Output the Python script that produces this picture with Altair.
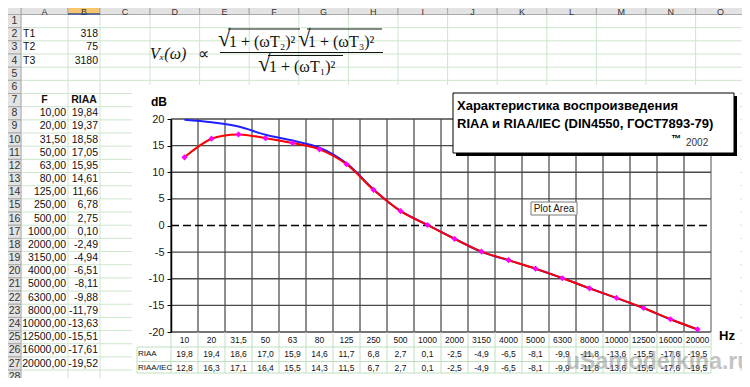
import altair as alt
import pandas as pd

# ---------------- data ----------------
t_names = ["T1", "T2", "T3"]
t_values = [318, 75, 3180]

freqs = [10, 20, 31.5, 50, 63, 80, 125, 250, 500, 1000,
         2000, 3150, 4000, 5000, 6300, 8000, 10000, 12500, 16000, 20000]
riaa = [19.84, 19.37, 18.58, 17.05, 15.95, 14.61, 11.66, 6.78, 2.75, 0.10,
        -2.49, -4.94, -6.51, -8.11, -9.88, -11.79, -13.63, -15.51, -17.61, -19.52]
riaa_table = [19.8, 19.4, 18.6, 17.0, 15.9, 14.6, 11.7, 6.8, 2.7, 0.1,
              -2.5, -4.9, -6.5, -8.1, -9.9, -11.8, -13.6, -15.5, -17.6, -19.5]
riaa_iec = [12.8, 16.3, 17.1, 16.4, 15.5, 14.3, 11.5, 6.7, 2.7, 0.1,
            -2.5, -4.9, -6.5, -8.1, -9.9, -11.8, -13.6, -15.5, -17.6, -19.5]
series_names = ["RIAA", "RIAA/IEC"]
y_ticks = [20, 15, 10, 5, 0, -5, -10, -15, -20]
col_letters = list("ABCDEFGHIJKLMNO")
n_rows = 29

title_1 = "Характеристика воспроизведения"
title_2 = "RIAA и RIAA/IEC (DIN4550, ГОСТ7893-79)"


def comma(v, d):
    return f"{v:.{d}f}".replace(".", ",")


cats = [f"{f:g}".replace(".", ",") for f in freqs]

# ---------------- layout ----------------
SANS = "Liberation Sans"
SERIF = "Liberation Serif"
PX0, PY0 = 171, 119          # page position of the plot origin
W, H = 540, 213
ROW_TOP, ROW_H = 14.5, 13.17
COL_EDGES = [0, 21, 68, 100, 150, 199.6, 249.2, 298.8, 348.4, 398, 447.6,
             497.2, 546.8, 596.4, 646, 695.6, 745.2]
GRID = "#cde6cd"
TBL = "#bfe0bf"
HDR = "#e3e3e3"


def vx(p):
    return alt.value(p - PX0)


def vy(p):
    return alt.value(p - PY0)


one = pd.DataFrame({"k": [0]})

# ---------------- spreadsheet (own scales) ----------------
sx = alt.Scale(type="linear", domain=list(range(-1, 16)),
               range=[e - PX0 for e in COL_EDGES], nice=False, zero=False)
sy = alt.Scale(type="linear", domain=[0, n_rows],
               range=[ROW_TOP - PY0, ROW_TOP + n_rows * ROW_H - PY0], nice=False, zero=False)


def SX(f):
    return alt.X(f, scale=sx, axis=None)


def SY(f):
    return alt.Y(f, scale=sy, axis=None)


rows_df = pd.DataFrame({"r": list(range(0, n_rows + 1))})
cols_df = pd.DataFrame({"c": list(range(0, 16))})

s_h = alt.Chart(rows_df).mark_rule(color=GRID).encode(y=SY("r:Q"), x=vx(21), x2=vx(760))
s_v = alt.Chart(cols_df).mark_rule(color=GRID).encode(x=SX("c:Q"), y=vy(14.5), y2=vy(400))

hdr_df = pd.DataFrame({"c": list(range(15)), "letter": col_letters})
hdr_df["c1"] = hdr_df["c"] + 1
hdr_df["cm"] = hdr_df["c"] + 0.5
s_hdr = alt.Chart(hdr_df).mark_rect(stroke="#a9a9a9", strokeWidth=1).encode(
    x=SX("c:Q"), x2="c1:Q", y=vy(0), y2=vy(14.5),
    fill=alt.condition("datum.letter == 'B'", alt.value("#f7c56e"), alt.value(HDR)))
s_hdr_b = alt.Chart(hdr_df[hdr_df["letter"] == "B"]).mark_rule(color="#3b4f9a", strokeWidth=1.5).encode(
    x=SX("c:Q"), x2="c1:Q", y=vy(14))
s_letters = alt.Chart(hdr_df).mark_text(font=SANS, fontSize=9, color="#333").encode(
    x=SX("cm:Q"), y=vy(11.5), text="letter:N")
s_corner = alt.Chart(one).mark_rect(fill=HDR, stroke="#a9a9a9").encode(
    x=vx(0), x2=vx(21), y=vy(0), y2=vy(14.5))

rh_df = pd.DataFrame({"r": list(range(1, n_rows))})
rh_df["r0"] = rh_df["r"] - 1
rh_df["rm"] = rh_df["r"] - 0.5
rh_df["label"] = rh_df["r"].astype(str)
s_rowhdr = alt.Chart(rh_df).mark_rect(fill=HDR, stroke="#a9a9a9", strokeWidth=1).encode(
    x=vx(0), x2=vx(21), y=SY("r0:Q"), y2="r:Q")
s_rownum = alt.Chart(rh_df).mark_text(font=SANS, fontSize=10.5, color="#333").encode(
    x=vx(14.5), y=SY("rm:Q"), text="label:N")

par_df = pd.DataFrame({"name": t_names, "val": [str(v) for v in t_values],
                       "rm": [1.5, 2.5, 3.5], "ca": [0] * 3, "cb": [2] * 3})
s_pn = alt.Chart(par_df).mark_text(font=SANS, fontSize=10.5, align="left", dx=2, color="#111").encode(
    x=SX("ca:Q"), y=SY("rm:Q"), text="name:N")
s_pv = alt.Chart(par_df).mark_text(font=SANS, fontSize=10.5, align="right", dx=-2, color="#111").encode(
    x=SX("cb:Q"), y=SY("rm:Q"), text="val:N")

head_df = pd.DataFrame({"t": ["F", "RIAA"], "cm": [0.5, 1.5], "rm": [6.5, 6.5]})
s_head = alt.Chart(head_df).mark_text(font=SANS, fontSize=10.5, fontWeight="bold", color="#111").encode(
    x=SX("cm:Q"), y=SY("rm:Q"), text="t:N")

cell_df = pd.DataFrame({"f": [comma(f, 2) for f in freqs],
                        "v": [comma(v, 2) for v in riaa],
                        "rm": [7.5 + i for i in range(len(freqs))],
                        "ca": [1] * len(freqs), "cb": [2] * len(freqs)})
s_cf = alt.Chart(cell_df).mark_text(font=SANS, fontSize=10.5, align="right", dx=-2, color="#111").encode(
    x=SX("ca:Q"), y=SY("rm:Q"), text="f:N")
s_cv = alt.Chart(cell_df).mark_text(font=SANS, fontSize=10.5, align="right", dx=-2, color="#111").encode(
    x=SX("cb:Q"), y=SY("rm:Q"), text="v:N")

sheet = alt.layer(s_h, s_v, s_hdr, s_hdr_b, s_letters, s_corner, s_rowhdr, s_rownum,
                  s_pn, s_pv, s_head, s_cf, s_cv)

# ---------------- chart ----------------
df = pd.DataFrame({"cat": cats, "riaa": riaa, "iec": riaa_iec,
                   "riaa_s": [comma(v, 1) for v in riaa_table],
                   "iec_s": [comma(v, 1) for v in riaa_iec]})

xs = alt.Scale(type="band", domain=cats, paddingInner=0, paddingOuter=0)
ys = alt.Scale(domain=[-20, 20], nice=False, zero=False)
Y_AXIS = alt.Axis(orient="left", values=y_ticks, grid=False, labelExpr="datum.value + ''",
                  labelFont=SANS, labelFontSize=11, labelColor="#222", tickSize=4,
                  tickColor="#000", domainColor="#000", domainWidth=1.5, labelPadding=3,
                  title=None, zindex=2)


def X(bp):
    return alt.X("cat:N", scale=xs, axis=None, bandPosition=bp)


def Y(f):
    return alt.Y(f, scale=ys, axis=Y_AXIS)


chart_bg = alt.Chart(one).mark_rect(fill="white").encode(
    x=vx(132), x2=vx(740), y=vy(85), y2=vy(378))

vgrid = alt.Chart(df).mark_rule(color="#1e1e1e", strokeWidth=1).encode(
    x=X(0), y=alt.value(0), y2=alt.value(H))
right_edge = alt.Chart(one).mark_rule(color="#8a8a8a", strokeWidth=1.5).encode(
    x=alt.value(W), y=alt.value(0), y2=alt.value(H))

hgrid = alt.Chart(pd.DataFrame({"v": y_ticks})).mark_rule(strokeWidth=1.3).encode(
    y=Y("v:Q"), x=alt.value(0), x2=alt.value(W),
    color=alt.condition("datum.v == 0", alt.value("#000000"), alt.value("#4a4a4a")),
    strokeDash=alt.condition("datum.v == 0", alt.value([8, 4]), alt.value([1, 0])))

t_vert = alt.Chart(df).mark_rule(color=TBL).encode(x=X(0), y=alt.value(H), y2=vy(373))
t_right = alt.Chart(one).mark_rule(color=TBL).encode(x=alt.value(W), y=alt.value(H), y2=vy(373))
t_left = alt.Chart(one).mark_rule(color=TBL).encode(x=vx(137), y=vy(347), y2=vy(373))
t_hor = [alt.Chart(one).mark_rule(color=TBL).encode(x=vx(137), x2=alt.value(W), y=vy(yy))
         for yy in (347, 361.5, 373)]

blue = alt.Chart(df).mark_line(color="#2020ff", strokeWidth=2, interpolate="catmull-rom").encode(
    x=X(0.5), y=Y("riaa:Q"))
red = alt.Chart(df).mark_line(color="#ff0000", strokeWidth=2, interpolate="catmull-rom").encode(
    x=X(0.5), y=Y("iec:Q"))
pts = alt.Chart(df).mark_point(shape="diamond", filled=True, color="#ff00ff", size=38, opacity=1).encode(
    x=X(0.5), y=Y("iec:Q"))

txt_cat = alt.Chart(df).mark_text(font=SANS, fontSize=8.5, color="#111").encode(
    x=X(0.5), y=vy(339.5), text="cat:N")
txt_riaa = alt.Chart(df).mark_text(font=SANS, fontSize=8.5, color="#111").encode(
    x=X(0.5), y=vy(354), text="riaa_s:N")
txt_iec = alt.Chart(df).mark_text(font=SANS, fontSize=8.5, color="#111").encode(
    x=X(0.5), y=vy(367.5), text="iec_s:N")
leg1 = alt.Chart(pd.DataFrame({"n": [series_names[0]]})).mark_text(
    font=SANS, fontSize=8, align="left", color="#111").encode(x=vx(138), y=vy(354), text="n:N")
leg2 = alt.Chart(pd.DataFrame({"n": [series_names[1]]})).mark_text(
    font=SANS, fontSize=8, align="left", color="#111").encode(x=vx(138), y=vy(367.5), text="n:N")

db = alt.Chart(pd.DataFrame({"t": ["dB"]})).mark_text(
    font=SANS, fontSize=12, fontWeight="bold", color="#000").encode(x=vx(159), y=vy(101.5), text="t:N")
hz = alt.Chart(pd.DataFrame({"t": ["Hz"]})).mark_text(
    font=SANS, fontSize=13, fontWeight="bold", color="#000").encode(x=vx(727), y=vy(336), text="t:N")

shadow = alt.Chart(one).mark_rect(fill="#000").encode(x=vx(456), x2=vx(737), y=vy(96), y2=vy(156))
box = alt.Chart(one).mark_rect(fill="white", stroke="#000", strokeWidth=1).encode(
    x=vx(453), x2=vx(734), y=vy(93), y2=vy(153))
ttl1 = alt.Chart(pd.DataFrame({"t": [title_1]})).mark_text(
    font=SANS, fontSize=13, fontWeight="bold", align="left", color="#000").encode(
    x=vx(457), y=vy(105.5), text="t:N")
ttl2 = alt.Chart(pd.DataFrame({"t": [title_2]})).mark_text(
    font=SANS, fontSize=13, fontWeight="bold", align="left", color="#000").encode(
    x=vx(457), y=vy(123.5), text="t:N")
tm = alt.Chart(pd.DataFrame({"t": ["™"]})).mark_text(
    font=SANS, fontSize=10, fontWeight="bold", color="#000").encode(x=vx(676), y=vy(139), text="t:N")
yr = alt.Chart(pd.DataFrame({"t": ["2002"]})).mark_text(
    font=SANS, fontSize=10, align="left", color="#333").encode(x=vx(686), y=vy(142.5), text="t:N")

tip_box = alt.Chart(one).mark_rect(fill="#ffffff", stroke="#7a7a7a").encode(
    x=vx(531), x2=vx(577), y=vy(202), y2=vy(215))
tip_txt = alt.Chart(pd.DataFrame({"t": ["Plot Area"]})).mark_text(
    font=SANS, fontSize=10, color="#222").encode(x=vx(554), y=vy(208.5), text="t:N")


def ftext(t, x, y, size=16, align="left", style="normal"):
    return alt.Chart(pd.DataFrame({"t": [t]})).mark_text(
        font=SERIF, fontSize=size, align=align, fontStyle=style, color="#111").encode(
        x=vx(x), y=vy(y), text="t:N")


def frule(x1, x2, y):
    return alt.Chart(one).mark_rule(color="#111", strokeWidth=1).encode(x=vx(x1), x2=vx(x2), y=vy(y))


formula = [
    ftext("Vₓ(ω)", 150, 54, 16, style="italic"),
    ftext("∝", 203, 54, 16, align="center"),
    ftext("√", 218, 38.5, 23),
    ftext("1 + (ωT₂)²", 229, 42, 16),
    ftext("√", 298, 38.5, 23),
    ftext("1 + (ωT₃)²", 308, 42, 16),
    frule(228, 300, 29),
    frule(307, 382, 29),
    frule(220, 383, 52.5),
    ftext("√", 258, 64, 23),
    ftext("1 + (ωT₁)²", 269, 67, 16),
    frule(268, 343, 55.5),
]

watermark = alt.Chart(pd.DataFrame({"t": ["uSamodelkina.ru"]})).mark_text(
    font=SANS, fontSize=23, fontWeight="bold", align="left", color="#7d7d7d", opacity=0.45).encode(
    x=vx(566), y=vy(362), text="t:N")

main = alt.layer(chart_bg, vgrid, right_edge, hgrid, t_vert, t_right, t_left, *t_hor,
                 blue, red, pts, txt_cat, txt_riaa, txt_iec, leg1, leg2, db, hz,
                 shadow, box, ttl1, ttl2, tm, yr, tip_box, tip_txt, *formula, watermark)

chart = alt.layer(sheet, main).resolve_scale(x="independent", y="independent").properties(
    width=W, height=H,
    autosize=alt.AutoSizeParams(type="none"),
    padding={"left": PX0 - 8, "top": PY0 - 8, "right": 734 - (PX0 - 8) - W, "bottom": 370 - (PY0 - 8) - H},
    background="white",
).configure_view(stroke=None)

chart.save("out.html", embed_options={"renderer": "svg", "actions": False})
